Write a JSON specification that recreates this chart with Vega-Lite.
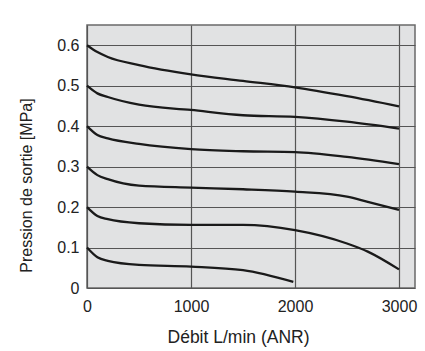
{
  "$schema": "https://vega.github.io/schema/vega-lite/v6.json",
  "autosize": "none",
  "padding": {"left": 87, "top": 25, "right": 10, "bottom": 63},
  "width": 328,
  "height": 263,
  "background": "white",
  "config": {
    "font": "Liberation Sans",
    "view": {"fill": "#e1e2e3", "stroke": "#6a6a6a", "strokeWidth": 1.5}
  },
  "data": {
    "values": [
      {"set": "0.6", "x": 0, "y": 0.6}, {"set": "0.6", "x": 100, "y": 0.583}, {"set": "0.6", "x": 200, "y": 0.571}, {"set": "0.6", "x": 500, "y": 0.551}, {"set": "0.6", "x": 1000, "y": 0.528}, {"set": "0.6", "x": 1500, "y": 0.512}, {"set": "0.6", "x": 2000, "y": 0.496}, {"set": "0.6", "x": 2500, "y": 0.474}, {"set": "0.6", "x": 3000, "y": 0.449},
      {"set": "0.5", "x": 0, "y": 0.5}, {"set": "0.5", "x": 100, "y": 0.481}, {"set": "0.5", "x": 200, "y": 0.472}, {"set": "0.5", "x": 500, "y": 0.453}, {"set": "0.5", "x": 1000, "y": 0.44}, {"set": "0.5", "x": 1500, "y": 0.427}, {"set": "0.5", "x": 2000, "y": 0.423}, {"set": "0.5", "x": 2500, "y": 0.411}, {"set": "0.5", "x": 3000, "y": 0.394},
      {"set": "0.4", "x": 0, "y": 0.4}, {"set": "0.4", "x": 100, "y": 0.378}, {"set": "0.4", "x": 200, "y": 0.37}, {"set": "0.4", "x": 500, "y": 0.356}, {"set": "0.4", "x": 1000, "y": 0.343}, {"set": "0.4", "x": 1500, "y": 0.338}, {"set": "0.4", "x": 2000, "y": 0.336}, {"set": "0.4", "x": 2500, "y": 0.324}, {"set": "0.4", "x": 3000, "y": 0.306},
      {"set": "0.3", "x": 0, "y": 0.3}, {"set": "0.3", "x": 100, "y": 0.279}, {"set": "0.3", "x": 200, "y": 0.269}, {"set": "0.3", "x": 500, "y": 0.253}, {"set": "0.3", "x": 1000, "y": 0.248}, {"set": "0.3", "x": 1500, "y": 0.244}, {"set": "0.3", "x": 2000, "y": 0.238}, {"set": "0.3", "x": 2500, "y": 0.226}, {"set": "0.3", "x": 2700, "y": 0.213}, {"set": "0.3", "x": 3000, "y": 0.193},
      {"set": "0.2", "x": 0, "y": 0.2}, {"set": "0.2", "x": 100, "y": 0.178}, {"set": "0.2", "x": 200, "y": 0.17}, {"set": "0.2", "x": 500, "y": 0.16}, {"set": "0.2", "x": 1000, "y": 0.156}, {"set": "0.2", "x": 1500, "y": 0.156}, {"set": "0.2", "x": 2000, "y": 0.143}, {"set": "0.2", "x": 2500, "y": 0.11}, {"set": "0.2", "x": 2700, "y": 0.09}, {"set": "0.2", "x": 3000, "y": 0.046},
      {"set": "0.1", "x": 0, "y": 0.1}, {"set": "0.1", "x": 100, "y": 0.076}, {"set": "0.1", "x": 200, "y": 0.067}, {"set": "0.1", "x": 500, "y": 0.057}, {"set": "0.1", "x": 1000, "y": 0.053}, {"set": "0.1", "x": 1500, "y": 0.044}, {"set": "0.1", "x": 1984, "y": 0.015}
    ]
  },
  "mark": {"type": "line", "interpolate": "monotone", "color": "#1a1a1a", "strokeWidth": 2.3},
  "encoding": {
    "x": {
      "field": "x", "type": "quantitative",
      "scale": {"domain": [0, 3154], "nice": false, "zero": false},
      "axis": {
        "values": [0, 1000, 2000, 3000], "format": "d", "title": "Débit L/min (ANR)",
        "grid": true, "gridColor": "#555555", "gridOpacity": 1, "gridWidth": 1.2,
        "domain": false, "ticks": false, "labelPadding": 10, "labelFontSize": 16, "labelColor": "#222",
        "labelFlush": false, "titleFontSize": 17.5, "titleFontWeight": "normal", "titleColor": "#222", "titlePadding": 14,
        "titleX": 151, "titleAlign": "center", "titleAnchor": null
      }
    },
    "y": {
      "field": "y", "type": "quantitative",
      "scale": {"domain": [0, 0.65], "nice": false},
      "axis": {
        "values": [0, 0.1, 0.2, 0.3, 0.4, 0.5, 0.6], "format": ".1~f", "title": "Pression de sortie [MPa]",
        "grid": true, "gridColor": "#555555", "gridOpacity": 1, "gridWidth": 1.2,
        "domain": false, "ticks": false, "labelPadding": 8, "labelFontSize": 16, "labelColor": "#222",
        "labelFlush": false, "titleFontSize": 16, "titleFontWeight": "normal", "titleColor": "#222", "titlePadding": 22,
        "titleY": 160, "titleAlign": "center", "titleAnchor": null
      }
    },
    "detail": {"field": "set", "type": "nominal"}
  }
}
